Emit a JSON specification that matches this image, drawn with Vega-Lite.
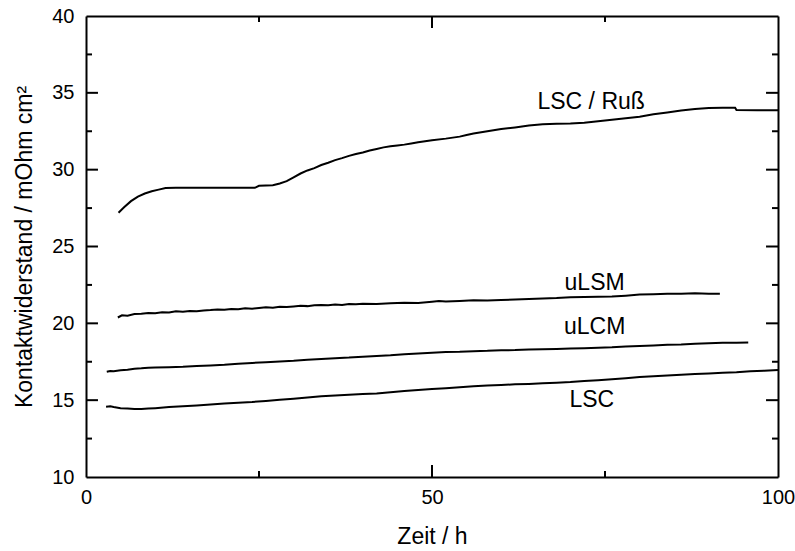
{
  "$schema": "https://vega.github.io/schema/vega-lite/v6.json",
  "width": 692,
  "height": 461,
  "autosize": {"type": "none"},
  "padding": {"left": 86, "top": 16, "right": 17, "bottom": 74},
  "config": {
    "view": {"stroke": null},
    "font": "Liberation Sans",
    "axis": {
      "grid": false,
      "domainColor": "black",
      "domainWidth": 2,
      "labelColor": "black",
      "labelFont": "Liberation Sans",
      "labelFontSize": 20,
      "labelFlush": false,
      "labelOverlap": false,
      "titleColor": "black",
      "titleFont": "Liberation Sans",
      "titleFontSize": 23,
      "titleFontWeight": "normal"
    }
  },
  "datasets": {
    "curves": [
      {"s": "LSC / Ruß", "t": 4.7, "v": 27.2},
      {"s": "LSC / Ruß", "t": 5.5, "v": 27.55},
      {"s": "LSC / Ruß", "t": 6.5, "v": 27.95},
      {"s": "LSC / Ruß", "t": 7.5, "v": 28.25},
      {"s": "LSC / Ruß", "t": 8.5, "v": 28.45},
      {"s": "LSC / Ruß", "t": 9.5, "v": 28.6},
      {"s": "LSC / Ruß", "t": 10.5, "v": 28.7},
      {"s": "LSC / Ruß", "t": 11.5, "v": 28.8},
      {"s": "LSC / Ruß", "t": 13, "v": 28.82},
      {"s": "LSC / Ruß", "t": 16, "v": 28.82},
      {"s": "LSC / Ruß", "t": 20, "v": 28.82},
      {"s": "LSC / Ruß", "t": 24.4, "v": 28.82},
      {"s": "LSC / Ruß", "t": 25, "v": 28.95},
      {"s": "LSC / Ruß", "t": 27, "v": 28.98},
      {"s": "LSC / Ruß", "t": 28, "v": 29.1},
      {"s": "LSC / Ruß", "t": 29, "v": 29.25},
      {"s": "LSC / Ruß", "t": 30, "v": 29.5},
      {"s": "LSC / Ruß", "t": 31, "v": 29.75},
      {"s": "LSC / Ruß", "t": 32, "v": 29.95},
      {"s": "LSC / Ruß", "t": 33, "v": 30.1},
      {"s": "LSC / Ruß", "t": 34, "v": 30.3},
      {"s": "LSC / Ruß", "t": 35, "v": 30.45},
      {"s": "LSC / Ruß", "t": 36, "v": 30.62},
      {"s": "LSC / Ruß", "t": 37, "v": 30.75},
      {"s": "LSC / Ruß", "t": 38, "v": 30.9},
      {"s": "LSC / Ruß", "t": 39, "v": 31.02},
      {"s": "LSC / Ruß", "t": 40, "v": 31.12},
      {"s": "LSC / Ruß", "t": 41, "v": 31.25},
      {"s": "LSC / Ruß", "t": 42, "v": 31.35},
      {"s": "LSC / Ruß", "t": 43, "v": 31.45},
      {"s": "LSC / Ruß", "t": 44, "v": 31.52},
      {"s": "LSC / Ruß", "t": 45, "v": 31.58},
      {"s": "LSC / Ruß", "t": 46, "v": 31.63},
      {"s": "LSC / Ruß", "t": 47, "v": 31.7},
      {"s": "LSC / Ruß", "t": 48, "v": 31.78},
      {"s": "LSC / Ruß", "t": 49, "v": 31.85},
      {"s": "LSC / Ruß", "t": 50, "v": 31.92},
      {"s": "LSC / Ruß", "t": 52, "v": 32.02},
      {"s": "LSC / Ruß", "t": 54, "v": 32.15},
      {"s": "LSC / Ruß", "t": 55, "v": 32.25},
      {"s": "LSC / Ruß", "t": 56, "v": 32.35},
      {"s": "LSC / Ruß", "t": 58, "v": 32.5},
      {"s": "LSC / Ruß", "t": 60, "v": 32.64},
      {"s": "LSC / Ruß", "t": 62, "v": 32.75},
      {"s": "LSC / Ruß", "t": 64, "v": 32.88},
      {"s": "LSC / Ruß", "t": 66, "v": 32.95},
      {"s": "LSC / Ruß", "t": 68, "v": 32.98},
      {"s": "LSC / Ruß", "t": 70, "v": 33.0},
      {"s": "LSC / Ruß", "t": 72, "v": 33.05},
      {"s": "LSC / Ruß", "t": 74, "v": 33.15},
      {"s": "LSC / Ruß", "t": 76, "v": 33.25},
      {"s": "LSC / Ruß", "t": 78, "v": 33.35},
      {"s": "LSC / Ruß", "t": 80, "v": 33.45},
      {"s": "LSC / Ruß", "t": 82, "v": 33.6},
      {"s": "LSC / Ruß", "t": 84, "v": 33.72},
      {"s": "LSC / Ruß", "t": 86, "v": 33.85},
      {"s": "LSC / Ruß", "t": 88, "v": 33.95},
      {"s": "LSC / Ruß", "t": 90, "v": 34.02},
      {"s": "LSC / Ruß", "t": 92, "v": 34.03},
      {"s": "LSC / Ruß", "t": 93.8, "v": 34.03},
      {"s": "LSC / Ruß", "t": 94, "v": 33.88},
      {"s": "LSC / Ruß", "t": 97, "v": 33.87},
      {"s": "LSC / Ruß", "t": 100, "v": 33.87},

      {"s": "uLSM", "t": 4.6, "v": 20.38},
      {"s": "uLSM", "t": 5.2, "v": 20.52},
      {"s": "uLSM", "t": 6, "v": 20.5},
      {"s": "uLSM", "t": 7, "v": 20.6},
      {"s": "uLSM", "t": 8, "v": 20.62},
      {"s": "uLSM", "t": 9, "v": 20.68},
      {"s": "uLSM", "t": 10, "v": 20.66},
      {"s": "uLSM", "t": 11, "v": 20.72},
      {"s": "uLSM", "t": 12, "v": 20.7},
      {"s": "uLSM", "t": 13, "v": 20.78},
      {"s": "uLSM", "t": 14, "v": 20.76},
      {"s": "uLSM", "t": 15, "v": 20.8},
      {"s": "uLSM", "t": 16, "v": 20.78},
      {"s": "uLSM", "t": 17, "v": 20.84},
      {"s": "uLSM", "t": 18, "v": 20.86},
      {"s": "uLSM", "t": 19, "v": 20.9},
      {"s": "uLSM", "t": 20, "v": 20.88},
      {"s": "uLSM", "t": 21, "v": 20.94},
      {"s": "uLSM", "t": 22, "v": 20.92},
      {"s": "uLSM", "t": 23, "v": 20.98},
      {"s": "uLSM", "t": 24, "v": 20.95},
      {"s": "uLSM", "t": 25, "v": 21.0},
      {"s": "uLSM", "t": 26, "v": 21.04},
      {"s": "uLSM", "t": 27, "v": 21.02},
      {"s": "uLSM", "t": 28, "v": 21.08},
      {"s": "uLSM", "t": 29, "v": 21.06},
      {"s": "uLSM", "t": 30, "v": 21.1},
      {"s": "uLSM", "t": 31, "v": 21.14},
      {"s": "uLSM", "t": 32, "v": 21.12},
      {"s": "uLSM", "t": 33, "v": 21.18},
      {"s": "uLSM", "t": 34, "v": 21.2},
      {"s": "uLSM", "t": 35, "v": 21.18},
      {"s": "uLSM", "t": 36, "v": 21.22},
      {"s": "uLSM", "t": 37, "v": 21.2},
      {"s": "uLSM", "t": 38, "v": 21.26},
      {"s": "uLSM", "t": 39, "v": 21.24},
      {"s": "uLSM", "t": 40, "v": 21.28},
      {"s": "uLSM", "t": 42, "v": 21.26},
      {"s": "uLSM", "t": 44, "v": 21.3},
      {"s": "uLSM", "t": 46, "v": 21.34},
      {"s": "uLSM", "t": 48, "v": 21.32},
      {"s": "uLSM", "t": 50, "v": 21.4},
      {"s": "uLSM", "t": 51, "v": 21.45},
      {"s": "uLSM", "t": 52, "v": 21.42},
      {"s": "uLSM", "t": 54, "v": 21.46},
      {"s": "uLSM", "t": 56, "v": 21.5},
      {"s": "uLSM", "t": 58, "v": 21.48},
      {"s": "uLSM", "t": 60, "v": 21.52},
      {"s": "uLSM", "t": 62, "v": 21.55},
      {"s": "uLSM", "t": 64, "v": 21.58},
      {"s": "uLSM", "t": 66, "v": 21.62},
      {"s": "uLSM", "t": 68, "v": 21.65},
      {"s": "uLSM", "t": 70, "v": 21.7},
      {"s": "uLSM", "t": 72, "v": 21.72},
      {"s": "uLSM", "t": 74, "v": 21.73},
      {"s": "uLSM", "t": 76, "v": 21.74},
      {"s": "uLSM", "t": 78, "v": 21.8},
      {"s": "uLSM", "t": 80, "v": 21.88},
      {"s": "uLSM", "t": 82, "v": 21.9},
      {"s": "uLSM", "t": 84, "v": 21.92},
      {"s": "uLSM", "t": 86, "v": 21.93},
      {"s": "uLSM", "t": 88, "v": 21.95},
      {"s": "uLSM", "t": 90, "v": 21.93},
      {"s": "uLSM", "t": 91.6, "v": 21.93},

      {"s": "uLCM", "t": 3.0, "v": 16.85},
      {"s": "uLCM", "t": 3.5, "v": 16.9},
      {"s": "uLCM", "t": 4, "v": 16.88},
      {"s": "uLCM", "t": 5, "v": 16.95},
      {"s": "uLCM", "t": 6, "v": 16.98},
      {"s": "uLCM", "t": 7, "v": 17.05},
      {"s": "uLCM", "t": 8, "v": 17.07},
      {"s": "uLCM", "t": 9, "v": 17.11},
      {"s": "uLCM", "t": 10, "v": 17.12},
      {"s": "uLCM", "t": 12, "v": 17.15},
      {"s": "uLCM", "t": 14, "v": 17.18},
      {"s": "uLCM", "t": 16, "v": 17.23},
      {"s": "uLCM", "t": 18, "v": 17.26},
      {"s": "uLCM", "t": 20, "v": 17.3},
      {"s": "uLCM", "t": 22, "v": 17.37},
      {"s": "uLCM", "t": 24, "v": 17.42},
      {"s": "uLCM", "t": 26, "v": 17.47},
      {"s": "uLCM", "t": 28, "v": 17.52},
      {"s": "uLCM", "t": 30, "v": 17.56},
      {"s": "uLCM", "t": 32, "v": 17.63},
      {"s": "uLCM", "t": 34, "v": 17.68},
      {"s": "uLCM", "t": 36, "v": 17.73},
      {"s": "uLCM", "t": 38, "v": 17.77},
      {"s": "uLCM", "t": 40, "v": 17.83},
      {"s": "uLCM", "t": 42, "v": 17.88},
      {"s": "uLCM", "t": 44, "v": 17.92},
      {"s": "uLCM", "t": 46, "v": 17.99},
      {"s": "uLCM", "t": 48, "v": 18.03},
      {"s": "uLCM", "t": 50, "v": 18.08},
      {"s": "uLCM", "t": 52, "v": 18.13},
      {"s": "uLCM", "t": 54, "v": 18.15},
      {"s": "uLCM", "t": 56, "v": 18.19},
      {"s": "uLCM", "t": 58, "v": 18.21},
      {"s": "uLCM", "t": 60, "v": 18.25},
      {"s": "uLCM", "t": 62, "v": 18.26},
      {"s": "uLCM", "t": 64, "v": 18.29},
      {"s": "uLCM", "t": 66, "v": 18.31},
      {"s": "uLCM", "t": 68, "v": 18.33},
      {"s": "uLCM", "t": 70, "v": 18.36},
      {"s": "uLCM", "t": 72, "v": 18.38},
      {"s": "uLCM", "t": 74, "v": 18.41},
      {"s": "uLCM", "t": 76, "v": 18.44},
      {"s": "uLCM", "t": 78, "v": 18.49},
      {"s": "uLCM", "t": 80, "v": 18.52},
      {"s": "uLCM", "t": 82, "v": 18.56},
      {"s": "uLCM", "t": 84, "v": 18.6},
      {"s": "uLCM", "t": 86, "v": 18.62},
      {"s": "uLCM", "t": 88, "v": 18.67},
      {"s": "uLCM", "t": 90, "v": 18.7},
      {"s": "uLCM", "t": 92, "v": 18.73},
      {"s": "uLCM", "t": 94, "v": 18.74},
      {"s": "uLCM", "t": 95.7, "v": 18.76},

      {"s": "LSC", "t": 2.9, "v": 14.57},
      {"s": "LSC", "t": 3.5, "v": 14.6},
      {"s": "LSC", "t": 4, "v": 14.55},
      {"s": "LSC", "t": 5, "v": 14.48},
      {"s": "LSC", "t": 6, "v": 14.45},
      {"s": "LSC", "t": 7, "v": 14.42},
      {"s": "LSC", "t": 8, "v": 14.43},
      {"s": "LSC", "t": 9, "v": 14.45},
      {"s": "LSC", "t": 10, "v": 14.48},
      {"s": "LSC", "t": 12, "v": 14.55},
      {"s": "LSC", "t": 14, "v": 14.6},
      {"s": "LSC", "t": 16, "v": 14.66},
      {"s": "LSC", "t": 18, "v": 14.72},
      {"s": "LSC", "t": 20, "v": 14.78},
      {"s": "LSC", "t": 22, "v": 14.83},
      {"s": "LSC", "t": 24, "v": 14.88},
      {"s": "LSC", "t": 26, "v": 14.95},
      {"s": "LSC", "t": 28, "v": 15.02},
      {"s": "LSC", "t": 30, "v": 15.1},
      {"s": "LSC", "t": 32, "v": 15.18},
      {"s": "LSC", "t": 34, "v": 15.25},
      {"s": "LSC", "t": 36, "v": 15.3},
      {"s": "LSC", "t": 38, "v": 15.35},
      {"s": "LSC", "t": 40, "v": 15.4},
      {"s": "LSC", "t": 42, "v": 15.44},
      {"s": "LSC", "t": 44, "v": 15.52},
      {"s": "LSC", "t": 46, "v": 15.6},
      {"s": "LSC", "t": 48, "v": 15.66},
      {"s": "LSC", "t": 50, "v": 15.73},
      {"s": "LSC", "t": 52, "v": 15.78},
      {"s": "LSC", "t": 54, "v": 15.84},
      {"s": "LSC", "t": 56, "v": 15.9},
      {"s": "LSC", "t": 58, "v": 15.95},
      {"s": "LSC", "t": 60, "v": 15.99},
      {"s": "LSC", "t": 62, "v": 16.03},
      {"s": "LSC", "t": 64, "v": 16.06},
      {"s": "LSC", "t": 66, "v": 16.1},
      {"s": "LSC", "t": 68, "v": 16.14},
      {"s": "LSC", "t": 70, "v": 16.18},
      {"s": "LSC", "t": 72, "v": 16.24},
      {"s": "LSC", "t": 74, "v": 16.3},
      {"s": "LSC", "t": 76, "v": 16.36},
      {"s": "LSC", "t": 78, "v": 16.42},
      {"s": "LSC", "t": 80, "v": 16.5},
      {"s": "LSC", "t": 82, "v": 16.55},
      {"s": "LSC", "t": 84, "v": 16.6},
      {"s": "LSC", "t": 86, "v": 16.66},
      {"s": "LSC", "t": 88, "v": 16.7},
      {"s": "LSC", "t": 90, "v": 16.74},
      {"s": "LSC", "t": 92, "v": 16.78},
      {"s": "LSC", "t": 94, "v": 16.82},
      {"s": "LSC", "t": 96, "v": 16.88},
      {"s": "LSC", "t": 98, "v": 16.92},
      {"s": "LSC", "t": 100, "v": 16.96}
    ],
    "labels": [
      {"label": "LSC / Ruß", "t": 73.0, "v": 34.4},
      {"label": "uLSM", "t": 73.5, "v": 22.6},
      {"label": "uLCM", "t": 73.5, "v": 19.73},
      {"label": "LSC", "t": 73.1, "v": 15.0}
    ],
    "xmajor": [{"tick": 50}],
    "xminor": [{"tick": 25}, {"tick": 75}],
    "ymajor": [{"tick": 15}, {"tick": 20}, {"tick": 25}, {"tick": 30}, {"tick": 35}],
    "yminor": [{"tick": 12.5}, {"tick": 17.5}, {"tick": 22.5}, {"tick": 27.5}, {"tick": 32.5}, {"tick": 37.5}]
  },
  "layer": [
    {
      "data": {"name": "curves"},
      "mark": {"type": "line", "color": "black", "strokeWidth": 2},
      "encoding": {
        "x": {
          "field": "t", "type": "quantitative",
          "scale": {"domain": [0, 100], "nice": false, "zero": false},
          "axis": {
            "orient": "bottom",
            "values": [0, 50, 100],
            "tickSize": 0,
            "labelPadding": 10,
            "title": "Zeit / h",
            "titlePadding": 18
          }
        },
        "y": {
          "field": "v", "type": "quantitative",
          "scale": {"domain": [10, 40], "nice": false, "zero": false},
          "axis": {
            "orient": "left",
            "values": [10, 15, 20, 25, 30, 35, 40],
            "tickSize": 0,
            "labelPadding": 12,
            "title": "Kontaktwiderstand / mOhm cm²",
            "titlePadding": 15
          }
        },
        "detail": {"field": "s"}
      }
    },
    {
      "data": {"name": "labels"},
      "mark": {"type": "text", "color": "black", "fontSize": 23, "font": "Liberation Sans"},
      "encoding": {
        "x": {
          "field": "t", "type": "quantitative",
          "axis": {"orient": "top", "values": [0, 100], "labels": false, "title": null, "tickSize": 0}
        },
        "y": {
          "field": "v", "type": "quantitative",
          "axis": {"orient": "right", "values": [10, 40], "labels": false, "title": null, "tickSize": 0}
        },
        "text": {"field": "label"}
      }
    },
    {
      "data": {"name": "xmajor"},
      "mark": {"type": "rule", "color": "black", "stroke": "black", "strokeWidth": 2, "opacity": 1, "strokeOpacity": 1},
      "encoding": {
        "x": {"field": "tick", "type": "quantitative", "axis": null},
        "y": {"datum": 10, "type": "quantitative", "axis": null},
        "y2": {"datum": 10.78}
      }
    },
    {
      "data": {"name": "xmajor"},
      "mark": {"type": "rule", "color": "black", "stroke": "black", "strokeWidth": 2, "opacity": 1, "strokeOpacity": 1},
      "encoding": {
        "x": {"field": "tick", "type": "quantitative", "axis": null},
        "y": {"datum": 40, "type": "quantitative", "axis": null},
        "y2": {"datum": 39.22}
      }
    },
    {
      "data": {"name": "xminor"},
      "mark": {"type": "rule", "color": "black", "stroke": "black", "strokeWidth": 2, "opacity": 1, "strokeOpacity": 1},
      "encoding": {
        "x": {"field": "tick", "type": "quantitative", "axis": null},
        "y": {"datum": 10, "type": "quantitative", "axis": null},
        "y2": {"datum": 10.39}
      }
    },
    {
      "data": {"name": "xminor"},
      "mark": {"type": "rule", "color": "black", "stroke": "black", "strokeWidth": 2, "opacity": 1, "strokeOpacity": 1},
      "encoding": {
        "x": {"field": "tick", "type": "quantitative", "axis": null},
        "y": {"datum": 40, "type": "quantitative", "axis": null},
        "y2": {"datum": 39.61}
      }
    },
    {
      "data": {"name": "ymajor"},
      "mark": {"type": "rule", "color": "black", "stroke": "black", "strokeWidth": 2, "opacity": 1, "strokeOpacity": 1},
      "encoding": {
        "y": {"field": "tick", "type": "quantitative", "axis": null},
        "x": {"datum": 0, "type": "quantitative", "axis": null},
        "x2": {"datum": 1.73}
      }
    },
    {
      "data": {"name": "ymajor"},
      "mark": {"type": "rule", "color": "black", "stroke": "black", "strokeWidth": 2, "opacity": 1, "strokeOpacity": 1},
      "encoding": {
        "y": {"field": "tick", "type": "quantitative", "axis": null},
        "x": {"datum": 100, "type": "quantitative", "axis": null},
        "x2": {"datum": 98.27}
      }
    },
    {
      "data": {"name": "yminor"},
      "mark": {"type": "rule", "color": "black", "stroke": "black", "strokeWidth": 2, "opacity": 1, "strokeOpacity": 1},
      "encoding": {
        "y": {"field": "tick", "type": "quantitative", "axis": null},
        "x": {"datum": 0, "type": "quantitative", "axis": null},
        "x2": {"datum": 0.87}
      }
    },
    {
      "data": {"name": "yminor"},
      "mark": {"type": "rule", "color": "black", "stroke": "black", "strokeWidth": 2, "opacity": 1, "strokeOpacity": 1},
      "encoding": {
        "y": {"field": "tick", "type": "quantitative", "axis": null},
        "x": {"datum": 100, "type": "quantitative", "axis": null},
        "x2": {"datum": 99.13}
      }
    }
  ],
  "resolve": {"axis": {"x": "independent", "y": "independent"}}
}
